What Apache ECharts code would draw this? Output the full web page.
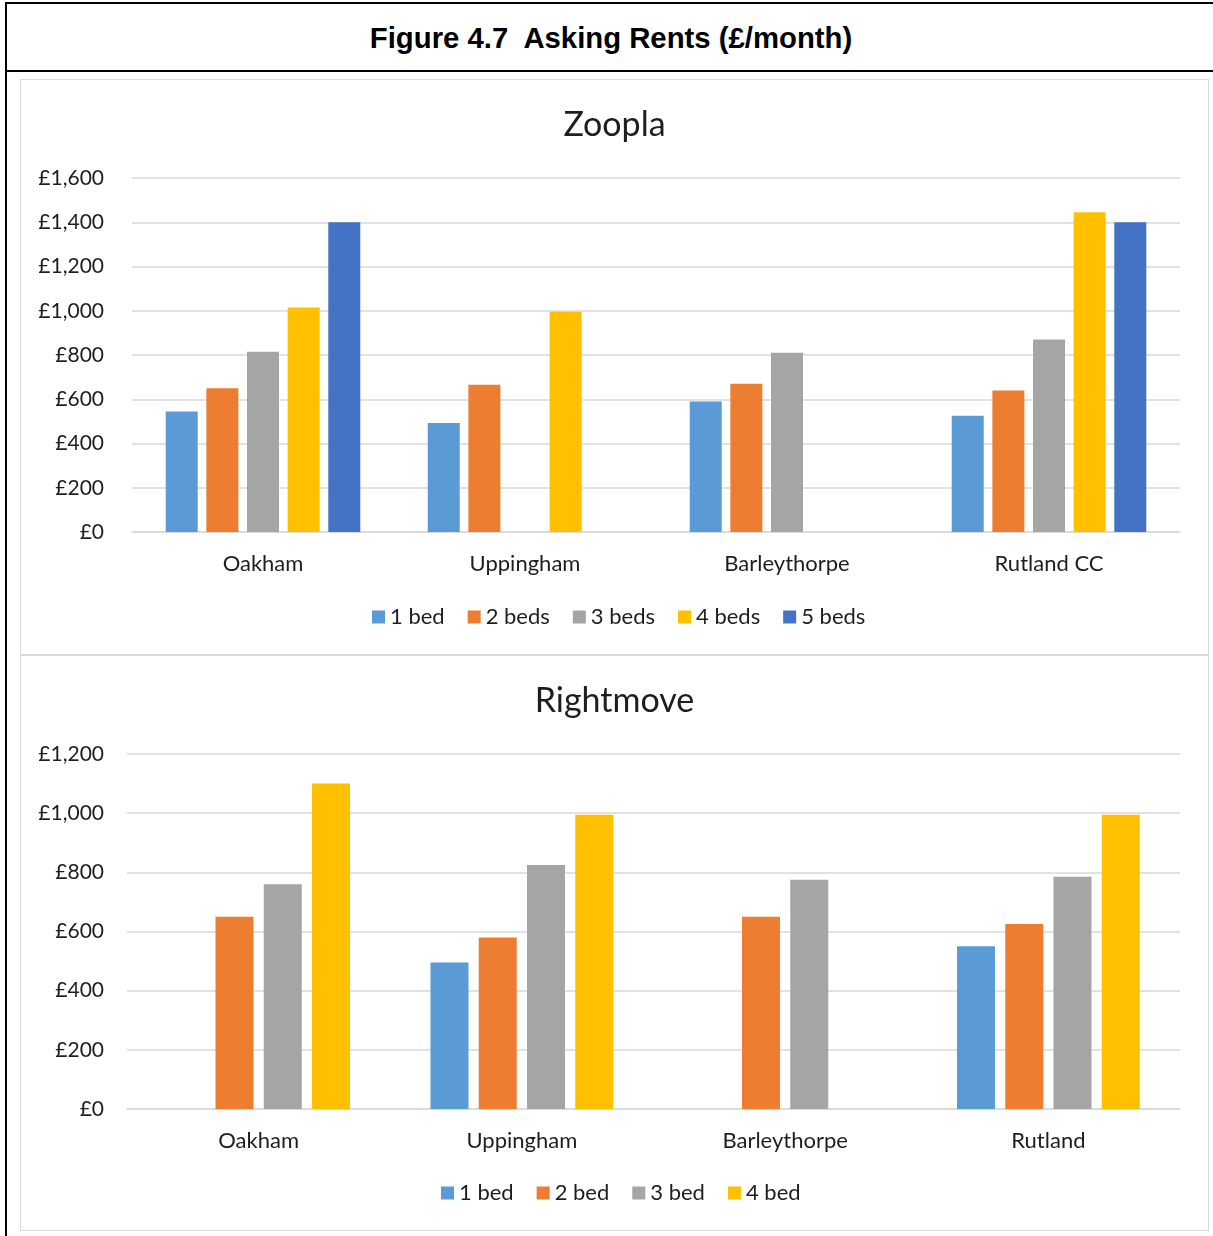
<!DOCTYPE html>
<html>
<head>
<meta charset="utf-8">
<script src="https://cdn.jsdelivr.net/npm/echarts@6/dist/echarts.min.js"></script>
<style>
  html, body { margin:0; padding:0; background:#fff; width:1213px; height:1236px; overflow:hidden; }
  #frame { position:absolute; left:5px; top:2px; width:1220px; height:1300px; border-top:2px solid #000; border-left:2px solid #000; box-sizing:border-box; }
  #sep { position:absolute; left:5px; top:70px; width:1220px; height:2px; background:#000; }
  #head { position:absolute; left:5px; top:5px; width:1212px; height:66px; line-height:66px; text-align:center;
          font-family:"Liberation Sans", Arial, sans-serif; font-weight:bold; font-size:29.3px; color:#000; white-space:pre; }
  .panel { position:absolute; left:20px; width:1189px; height:576px; border:1.5px solid #d9d9d9; box-sizing:border-box; background:#fff; }
  #zoopla { top:79px; }
  #rightmove { top:655px; }
</style>
</head>
<body>
<div id="frame"></div>
<div id="sep"></div>
<div id="head">Figure 4.7  Asking Rents (£/month)</div>
<div id="zoopla" class="panel"></div>
<div id="rightmove" class="panel"></div>
<script>
// ---------- Data ----------
const zooplaCategories = ['Oakham', 'Uppingham', 'Barleythorpe', 'Rutland CC'];
const zooplaSeriesNames = ['1 bed', '2 beds', '3 beds', '4 beds', '5 beds'];
const zoopla1Bed = [545, 493, 590, 525];
const zoopla2Beds = [650, 665, 670, 640];
const zoopla3Beds = [815, null, 810, 870];
const zoopla4Beds = [1015, 995, null, 1445];
const zoopla5Beds = [1400, null, null, 1400];
const zooplaTicks = { min: 0, max: 1600, interval: 200 };

const rightmoveCategories = ['Oakham', 'Uppingham', 'Barleythorpe', 'Rutland'];
const rightmoveSeriesNames = ['1 bed', '2 bed', '3 bed', '4 bed'];
const rightmove1Bed = [null, 495, null, 550];
const rightmove2Bed = [650, 580, 650, 625];
const rightmove3Bed = [760, 825, 775, 785];
const rightmove4Bed = [1100, 995, null, 995];
const rightmoveTicks = { min: 0, max: 1200, interval: 200 };

const colors = ['#5B9BD5', '#ED7D31', '#A5A5A5', '#FFC000', '#4472C4'];

// ---------- Helpers ----------
const FONT = 'Lato, "Open Sans", "Noto Sans", sans-serif';
const TXT = '#1e1e1e';
function money(v) { return '£' + v.toLocaleString('en-GB'); }

function buildOption(title, cats, names, values, ticks, grid, barWidth, yMargin, legendLeft) {
  return {
    animation: false,
    color: colors,
    title: {
      text: title, left: 'center', top: 23,
      textStyle: { fontFamily: FONT, fontSize: 34, fontWeight: 'normal', color: TXT }
    },
    legend: {
      data: names, left: legendLeft, top: 521,
      padding: [5, 0, 5, 0],
      icon: 'rect', itemWidth: 13, itemHeight: 13, itemGap: 23,
      textStyle: { fontFamily: FONT, fontSize: 22, color: TXT }
    },
    grid: grid,
    xAxis: {
      type: 'category', data: cats,
      axisTick: { show: false },
      axisLine: { lineStyle: { color: '#d9d9d9', width: 1.5 } },
      axisLabel: { fontFamily: FONT, fontSize: 22, color: TXT, margin: 21 }
    },
    yAxis: {
      type: 'value', min: ticks.min, max: ticks.max, interval: ticks.interval,
      axisLine: { show: false }, axisTick: { show: false },
      splitLine: { lineStyle: { color: '#d9d9d9', width: 1.5 } },
      axisLabel: { fontFamily: FONT, fontSize: 21, color: TXT, margin: yMargin, formatter: money }
    },
    series: names.map((n, i) => ({
      name: n, type: 'bar', data: values[i],
      barWidth: barWidth, barGap: '27%',
      itemStyle: { color: colors[i] }
    }))
  };
}

const zc = echarts.init(document.getElementById('zoopla'), null, { renderer: 'canvas' });
zc.setOption(buildOption('Zoopla', zooplaCategories, zooplaSeriesNames,
  [zoopla1Bed, zoopla2Beds, zoopla3Beds, zoopla4Beds, zoopla5Beds], zooplaTicks,
  { left: 111, right: 28, top: 98, bottom: 122, containLabel: false }, 32, 28, 351));

const rc = echarts.init(document.getElementById('rightmove'), null, { renderer: 'canvas' });
rc.setOption(buildOption('Rightmove', rightmoveCategories, rightmoveSeriesNames,
  [rightmove1Bed, rightmove2Bed, rightmove3Bed, rightmove4Bed], rightmoveTicks,
  { left: 106, right: 28, top: 98, bottom: 121, containLabel: false }, 38, 23, 420));
</script>
</body>
</html>
